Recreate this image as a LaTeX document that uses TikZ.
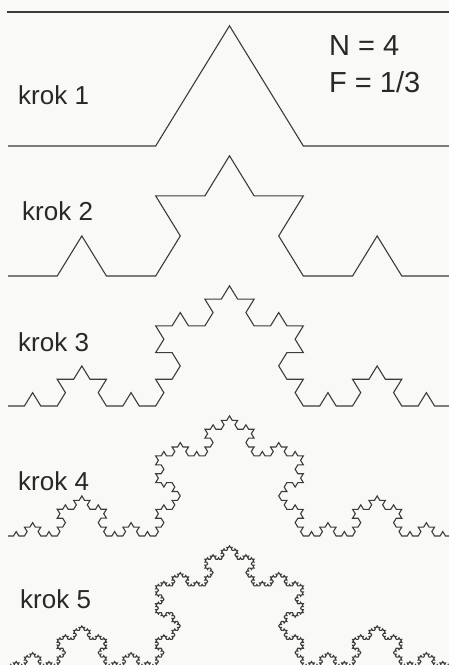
\documentclass[tikz,border=0pt]{standalone}
\usepackage{fontspec}
\setmainfont{Liberation Sans}
\usepackage{tikz}
\usetikzlibrary{lindenmayersystems,positioning}

\definecolor{paper}{RGB}{249,249,247}
\definecolor{ink}{RGB}{60,60,60}
\definecolor{txt}{RGB}{40,40,40}

\pgfdeclarelindenmayersystem{koch}{\rule{F -> F-F++F-F}}

\tikzset{
  kochline/.style={draw=ink,line width=1.1pt,line join=miter},
  rule/.style={draw=ink,line width=1.2pt},
  lbl/.style={anchor=base west,inner sep=0pt,text=txt,font=\fontsize{26}{30}\selectfont},
  param/.style={anchor=base west,inner sep=0pt,text=txt,font=\fontsize{29}{33}\selectfont}
}

\begin{document}
\begin{tikzpicture}[x=1pt,y=1pt,yscale=-1,xscale=1]

\fill[paper] (0,0) rectangle (449,665);
\clip (0,0) rectangle (449,665);

\draw[rule] (7,12) -- (449,12);

% krok 1
\begin{scope}[shift={(8,146)},yscale=0.94]
\draw[kochline] (0,0) l-system[l-system={koch, axiom=F, order=1, step=147.667pt, angle=60}];
\end{scope}

% krok 2
\begin{scope}[shift={(8,276)},yscale=0.94]
\draw[kochline] (0,0) l-system[l-system={koch, axiom=F, order=2, step=49.222pt, angle=60}];
\end{scope}

% krok 3
\begin{scope}[shift={(8,406)},yscale=0.94]
\draw[kochline] (0,0) l-system[l-system={koch, axiom=F, order=3, step=16.407pt, angle=60}];
\end{scope}

% krok 4
\begin{scope}[shift={(8,536)},yscale=0.94]
\draw[kochline] (0,0) l-system[l-system={koch, axiom=F, order=4, step=5.469pt, angle=60}];
\end{scope}

% krok 5
\begin{scope}[shift={(8,666)},yscale=0.94]
\draw[kochline] (0,0) l-system[l-system={koch, axiom=F, order=5, step=1.823pt, angle=60}];
\end{scope}

\node[lbl] (krok1) at (18,104) {krok 1};
\node[lbl] (krok2) at (22,220) {krok 2};
\node[lbl] (krok3) at (18,351) {krok 3};
\node[lbl] (krok4) at (18,490) {krok 4};
\node[lbl] (krok5) at (20,608) {krok 5};

\node[param] (nval) at (329,55) {N = 4};
\node[param] (fval) at (329,92) {F = 1/3};

\end{tikzpicture}
\end{document}
